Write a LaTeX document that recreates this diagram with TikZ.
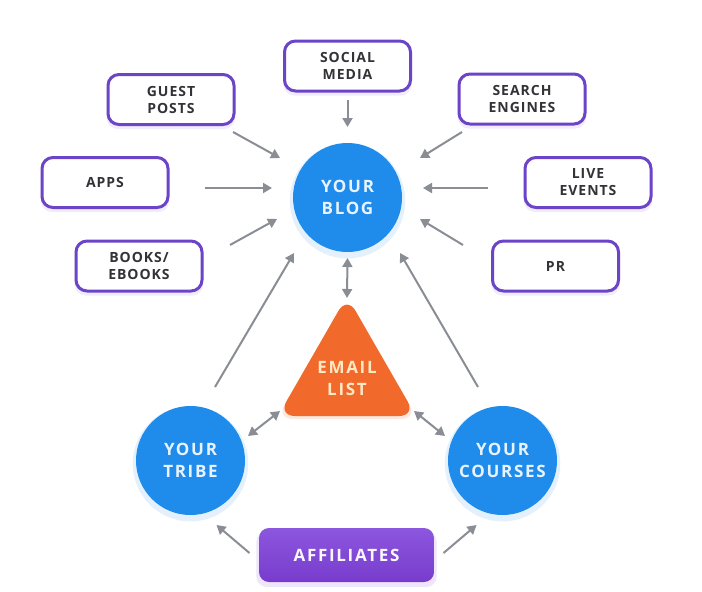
\documentclass[tikz,border=0pt]{standalone}
\usepackage{fontspec}
\setmainfont{Open Sans}
\newfontfamily\boxfont[LetterSpace=7]{Open Sans}
\newfontfamily\hubfont[LetterSpace=10]{Open Sans}
\usetikzlibrary{arrows.meta,calc,shadows}
\definecolor{bpurple}{RGB}{108,68,200}
\definecolor{bblue}{RGB}{31,140,235}
\definecolor{orng}{RGB}{242,106,43}
\definecolor{agray}{RGB}{138,142,148}
\definecolor{btext}{RGB}{50,50,55}
\definecolor{etext}{RGB}{255,232,195}
\definecolor{htext}{RGB}{232,243,255}
\definecolor{afftop}{RGB}{140,86,222}
\definecolor{affbot}{RGB}{120,60,205}
\tikzset{
  srcbox/.style={draw=bpurple, line width=3pt, fill=white, rounded corners=11pt,
    minimum width=126pt, minimum height=50pt, inner sep=0pt, align=center,
    text=btext, font=\boxfont\bfseries\fontsize{14}{17}\selectfont,
    general shadow={fill=bpurple!10, shadow yshift=-4pt, shadow scale=1.02}},
  hub/.style={circle, fill=bblue, minimum size=109pt, inner sep=0pt, align=center,
    text=htext, font=\hubfont\bfseries\fontsize{17}{22}\selectfont,
    general shadow={fill=bblue!12, shadow yshift=-3pt, shadow scale=1.06}},
  arr/.style={draw=agray, line width=2pt, -{Triangle[length=9pt,width=10pt]}},
  darr/.style={draw=agray, line width=2pt, {Triangle[length=9pt,width=10pt]}-{Triangle[length=9pt,width=10pt]}},
}
\begin{document}
\begin{tikzpicture}[x=1pt,y=-1pt]
\useasboundingbox[fill=white] (0,0) rectangle (702,592);
% source boxes
\node[srcbox] (social) at (347.5,66) {SOCIAL\\MEDIA};
\node[srcbox] (guest) at (171,99.5) {GUEST\\POSTS};
\node[srcbox] (search) at (522,99) {SEARCH\\ENGINES};
\node[srcbox] (apps) at (105,182.5) {APPS};
\node[srcbox] (live) at (588,182.5) {LIVE\\EVENTS};
\node[srcbox] (books) at (139,266) {BOOKS/\\EBOOKS};
\node[srcbox] (pr) at (555.5,266) {PR};
% hubs
\node[hub] (blog) at (347.5,197.5) {YOUR\\BLOG};
\node[hub] (tribe) at (190.5,460.5) {YOUR\\TRIBE};
\node[hub] (courses) at (502.5,460.5) {YOUR\\COURSES};
% email triangle
\fill[orng!30, opacity=0.5, rounded corners=17pt] (347,300) -- (418,419) -- (276,419) -- cycle;
\fill[orng, rounded corners=17pt] (347,296) -- (416,416) -- (278,416) -- cycle;
\node[align=center, text=etext, font=\hubfont\bfseries\fontsize{17}{22}\selectfont] (email) at (347,378) {EMAIL\\LIST};
% affiliates
\node[rounded corners=10pt, minimum width=175pt, minimum height=54pt, inner sep=0pt,
  top color=afftop, bottom color=affbot, text=white!95!afftop,
  font=\hubfont\bfseries\fontsize{17}{20}\selectfont,
  general shadow={fill=afftop!15, shadow yshift=-4pt, shadow scale=1.03}] (aff) at (346.5,555) {AFFILIATES};
% connectors
\draw[arr] ($(social)+(0,34)$) -- ($(blog)+(0,-70.5)$);
\draw[arr] ($(guest)+(62,32.5)$) -- ($(blog)+(-67.5,-39.5)$);
\draw[arr] ($(search)+(-60,33)$) -- ($(blog)+(72.5,-39.5)$);
\draw[arr] ($(apps)+(100,5.5)$) -- ($(blog)+(-75.5,-9.5)$);
\draw[arr] ($(live)+(-100,5.5)$) -- ($(blog)+(75.5,-9.5)$);
\draw[arr] ($(books)+(91,-21)$) -- ($(blog)+(-70.5,21.5)$);
\draw[arr] ($(pr)+(-92.5,-21)$) -- ($(blog)+(72.5,21.5)$);
\draw[darr] ($(blog)+(0,60.5)$) -- ($(email)+(0,-80)$);
\draw[arr] ($(tribe)+(24.5,-73.5)$) -- ($(blog)+(-53.5,55.5)$);
\draw[arr] ($(courses)+(-24.5,-73.5)$) -- ($(blog)+(52.5,55.5)$);
\draw[darr] ($(tribe)+(57.5,-24.5)$) -- ($(email)+(-67,33)$);
\draw[darr] ($(email)+(67,33)$) -- ($(courses)+(-57.5,-24.5)$);
\draw[arr] ($(aff)+(-97,-2)$) -- ($(tribe)+(26,64.5)$);
\draw[arr] ($(aff)+(97,-2)$) -- ($(courses)+(-26,64.5)$);
\end{tikzpicture}
\end{document}
